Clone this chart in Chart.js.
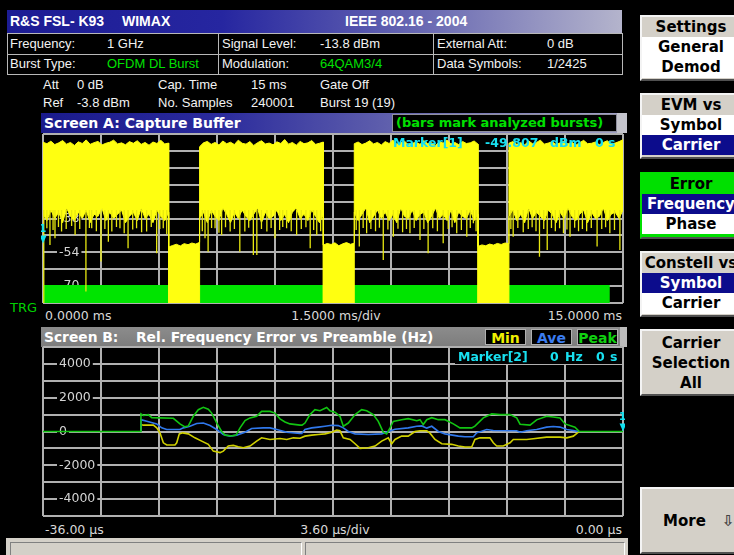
<!DOCTYPE html>
<html><head><meta charset="utf-8">
<script src="https://cdn.jsdelivr.net/npm/chart.js@4.4.0/dist/chart.umd.min.js"></script>
<style>
html,body{margin:0;padding:0;}
body{width:734px;height:555px;background:#000;position:relative;overflow:hidden;font-family:"Liberation Sans",Arial,sans-serif;}
.a{position:absolute;white-space:nowrap;}
.t{position:absolute;white-space:nowrap;height:16px;line-height:16px;}
.hd{font:bold 14px "Liberation Sans";color:#fff;}
.tb{font:13px "Liberation Sans";color:#f2f2f2;}
.gr{color:#00e000;}
.st{font:bold 14px "DejaVu Sans";color:#fff;}
.ax{font:12.5px "DejaVu Sans";color:#d8d8d8;}
.mk{font:bold 12.5px "DejaVu Sans";color:#18e0f0;}
.sk{position:absolute;left:640px;width:100px;box-sizing:border-box;background:#d4d0c8;border-top:2px solid #f4f4f4;border-left:2px solid #f4f4f4;border-bottom:2px solid #505050;font:bold 15px "DejaVu Sans";color:#000;text-align:center;}
.sk div{height:20px;line-height:20px;}
.w{background:#fff;}
.n{background:#0c0c8c;color:#fff;}
.lg{position:absolute;top:329px;height:16px;line-height:16px;box-sizing:border-box;width:41px;background:#000;border:1px solid #b0b0b0;font:bold 14px "DejaVu Sans";text-align:center;}
</style></head><body>

<!-- header -->
<div class="a" style="left:7px;top:10px;width:615px;height:23px;background:linear-gradient(to right,#1c1c94 0%,#2626a0 35%,#6e6eb4 70%,#b4b4cc 100%);"></div>
<div class="t hd" style="left:10px;top:13px;">R&amp;S FSL- K93</div>
<div class="t hd" style="left:122px;top:13px;">WIMAX</div>
<div class="t hd" style="left:345px;top:13px;">IEEE 802.16 - 2004</div>

<div class="a" style="left:7px;top:33px;width:616px;height:42px;box-sizing:border-box;border:1px solid #b8b8b8;"></div>
<div class="a" style="left:7px;top:54px;width:616px;height:1px;background:#b8b8b8;"></div>
<div class="a" style="left:218px;top:33px;width:1px;height:42px;background:#b8b8b8;"></div>
<div class="a" style="left:433px;top:33px;width:1px;height:42px;background:#b8b8b8;"></div>

<div class="t tb" style="left:10px;top:36px;">Frequency:</div>
<div class="t tb" style="left:107px;top:36px;">1 GHz</div>
<div class="t tb" style="left:222px;top:36px;">Signal Level:</div>
<div class="t tb" style="left:320px;top:36px;">-13.8 dBm</div>
<div class="t tb" style="left:437px;top:36px;">External Att:</div>
<div class="t tb" style="left:547px;top:36px;">0 dB</div>
<div class="t tb" style="left:10px;top:56px;">Burst Type:</div>
<div class="t tb gr" style="left:107px;top:56px;">OFDM DL Burst</div>
<div class="t tb" style="left:222px;top:56px;">Modulation:</div>
<div class="t tb gr" style="left:320px;top:56px;">64QAM3/4</div>
<div class="t tb" style="left:437px;top:56px;">Data Symbols:</div>
<div class="t tb" style="left:547px;top:56px;">1/2425</div>

<div class="t tb" style="left:43px;top:77px;">Att</div>
<div class="t tb" style="left:77px;top:77px;">0 dB</div>
<div class="t tb" style="left:158px;top:77px;">Cap. Time</div>
<div class="t tb" style="left:251px;top:77px;">15 ms</div>
<div class="t tb" style="left:320px;top:77px;">Gate Off</div>
<div class="t tb" style="left:43px;top:95px;">Ref</div>
<div class="t tb" style="left:77px;top:95px;">-3.8 dBm</div>
<div class="t tb" style="left:158px;top:95px;">No. Samples</div>
<div class="t tb" style="left:251px;top:95px;">240001</div>
<div class="t tb" style="left:320px;top:95px;">Burst 19 (19)</div>

<!-- Screen A title -->
<div class="a" style="left:41px;top:113px;width:586px;height:20px;background:linear-gradient(to right,#1a1a8c 0%,#2a2a9c 30%,#6a6ab0 65%,#a4a4c8 100%);"></div>
<div class="a" style="left:617px;top:113px;width:10px;height:20px;background:#c4c4cc;"></div>
<div class="t st" style="left:44px;top:115px;">Screen A: Capture Buffer</div>
<div class="a" style="left:392px;top:114px;width:225px;height:18px;box-sizing:border-box;background:#000;border:1px solid #9090a0;font:bold 13px 'DejaVu Sans';color:#00e000;line-height:16px;padding-left:3px;">(bars mark analyzed bursts)</div>

<div class="a" style="left:41px;top:132px;width:584px;height:173px;"><canvas id="cA" width="584" height="173"></canvas></div>
<div class="t mk" style="left:393px;top:135px;">Marker[1]</div>
<div class="t mk" style="left:485px;top:135px;">-49.807</div>
<div class="t mk" style="left:550px;top:135px;">dBm</div>
<div class="t mk" style="left:595px;top:135px;">0</div>
<div class="t mk" style="left:608px;top:135px;">s</div>

<div class="t" style="left:10px;top:300px;font:13px 'DejaVu Sans';color:#00d000;">TRG</div>
<div class="t ax" style="left:45px;top:308px;">0.0000 ms</div>
<div class="t ax" style="left:236px;top:308px;width:200px;text-align:center;">1.5000 ms/div</div>
<div class="t ax" style="left:500px;top:308px;width:122px;text-align:right;">15.0000 ms</div>

<!-- Screen B title -->
<div class="a" style="left:41px;top:327px;width:586px;height:20px;background:linear-gradient(to bottom,#8c8c8c,#7c7c7c);"></div>
<div class="a" style="left:620px;top:327px;width:7px;height:20px;background:#bcbcbc;"></div>
<div class="t st" style="left:44px;top:329px;font-size:13.8px;">Screen B:</div>
<div class="t st" style="left:136px;top:329px;font-size:13.8px;">Rel. Frequency Error vs Preamble (Hz)</div>
<div class="lg" style="left:485px;color:#f0f000;">Min</div>
<div class="lg" style="left:531px;color:#3a7cf0;">Ave</div>
<div class="lg" style="left:577px;color:#10d010;">Peak</div>

<div class="a" style="left:41px;top:345px;width:584px;height:173px;"><canvas id="cB" width="584" height="173"></canvas></div>
<div class="a" style="left:455px;top:348px;width:167px;height:16px;background:#000;"></div>
<div class="t mk" style="left:458px;top:349px;">Marker[2]</div>
<div class="t mk" style="left:550px;top:349px;">0</div>
<div class="t mk" style="left:565px;top:349px;">Hz</div>
<div class="t mk" style="left:596px;top:349px;">0</div>
<div class="t mk" style="left:610px;top:349px;">s</div>

<div class="t ax" style="left:45px;top:522px;">-36.00 µs</div>
<div class="t ax" style="left:235px;top:522px;width:200px;text-align:center;">3.60 µs/div</div>
<div class="t ax" style="left:500px;top:522px;width:122px;text-align:right;">0.00 µs</div>

<!-- status bar -->
<div class="a" style="left:6px;top:538px;width:622px;height:17px;background:#d4d0c8;"></div>
<div class="a" style="left:10px;top:542px;width:292px;height:13px;box-sizing:border-box;border-top:1px solid #808080;border-left:1px solid #808080;border-right:1px solid #fff;"></div>
<div class="a" style="left:305px;top:542px;width:320px;height:13px;box-sizing:border-box;border-top:1px solid #808080;border-left:1px solid #808080;border-right:1px solid #fff;"></div>

<!-- softkeys -->
<div class="sk" style="top:15px;height:66px;"><div>Settings</div><div class="w">General</div><div class="w" style="height:21px;">Demod</div></div>
<div class="sk" style="top:93px;height:66px;"><div>EVM vs</div><div class="w">Symbol</div><div class="n">Carrier</div></div>
<div class="sk" style="top:172px;height:67px;background:#00e000;border-color:#00e000;border-bottom:2px solid #505050;"><div style="color:#000;">Error</div><div class="n">Frequency</div><div class="w">Phase</div></div>
<div class="sk" style="top:251px;height:66px;"><div>Constell vs</div><div class="n">Symbol</div><div class="w" style="height:21px;">Carrier</div></div>
<div class="sk" style="top:329px;height:67px;padding-top:2px;"><div>Carrier</div><div>Selection</div><div>All</div></div>
<div class="sk" style="top:487px;height:67px;"></div>
<div class="t" style="left:663px;top:512px;font:bold 15px 'DejaVu Sans';color:#000;">More</div>
<div class="t" style="left:722px;top:512px;font:bold 15px 'DejaVu Sans';color:#444;">⇩</div>

<script>
// ---------- Screen A: capture buffer (ms, dBm) ----------
const xTicksA = [0,1.5,3,4.5,6,7.5,9,10.5,12,13.5,15];
const yTicksA = [-78,-70,-62,-54,-46,-38,-30,-22,-14,-6,2];
const yLabelsA = [-70,-54,-38,-22,-6];
const burstEdgesMs = [[0,3.25],[4.05,7.25],[8.05,11.25],[12.05,15]];
const burstTop1 = [-1.9,-2.6,-1.4,-3.0,-2.2,-1.1,-2.8,-2.0,-3.4,-1.7,-2.5,-0.8,-2.9,-2.1,-1.5,-3.2,-2.4,-1.9,-0.9,-2.7,-2.2,-3.1,-1.6,-2.4,-1.2,-2.9,-2.0,-3.3,-1.8,-2.5,-1.0,-2.7,-2.3];
const burstTop2 = [-4.0,-2.2,-1.5,-2.9,-2.0,-3.2,-1.3,-2.6,-1.9,-3.0,-0.9,-2.4,-2.8,-1.6,-3.4,-2.1,-1.2,-2.7,-2.3,-3.1,-1.7,-2.5,-0.6,-2.8,-2.0,-3.3,-1.5,-2.6,-2.2,-1.1,-2.9,-2.4,-1.8];
const burstTop3 = [-2.6,-1.8,-3.0,-2.3,-1.2,-2.7,-2.0,-3.2,-1.6,-2.5,-0.9,-2.8,-2.2,-1.4,-3.1,-2.4,-1.9,-2.9,-1.1,-2.6,-2.1,-3.4,-1.7,-2.3,-0.8,-2.7,-2.0,-3.0,-1.5,-2.5,-2.2,-1.3,-2.8];
const burstTop4 = [-2.4,-1.6,-2.9,-2.1,-3.2,-1.3,-2.6,-2.0,-0.9,-2.8,-2.3,-1.7,-3.0,-2.2,-1.4,-2.7,-1.9,-3.3,-2.1,-1.0,-2.6,-2.4,-1.8,-3.1,-2.0,-1.2,-2.7,-2.3,-1.6,-0.7];
const burstBody1 = [-36,-39,-34,-38,-35,-40,-33,-37,-39,-35,-38,-34,-40,-36,-37,-33,-39,-35,-38,-36,-34,-40,-37,-35,-39,-33,-38,-36,-40,-34,-37,-39,-35];
const burstBody2 = [-38,-35,-40,-34,-37,-39,-33,-36,-40,-35,-38,-34,-37,-39,-36,-33,-40,-35,-38,-37,-34,-39,-36,-40,-35,-33,-38,-36,-39,-34,-37,-40,-36];
const burstBody3 = [-35,-39,-36,-33,-40,-37,-34,-38,-35,-39,-36,-40,-33,-37,-38,-34,-39,-36,-35,-40,-37,-33,-38,-36,-39,-34,-40,-35,-37,-38,-34,-39,-36];
const burstBody4 = [-37,-34,-39,-36,-40,-33,-38,-35,-37,-39,-34,-36,-40,-35,-38,-33,-37,-39,-36,-34,-40,-35,-38,-37,-33,-39,-36,-35,-38,-34];
const gapTop1 = [-51.5,-50.8,-50.2,-51.0,-49.9,-50.4,-49.6,-50.1,-49.3];
const gapTop2 = [-50.6,-49.8,-50.3,-49.5,-50.9,-50.0,-49.4,-50.2,-49.7];
const gapTop3 = [-51.2,-50.5,-50.9,-50.1,-50.6,-49.8,-50.3,-49.6,-49.9];
const gapFloorDbm = -80;
const spikeFromDbm = -34;
const spikeMs = [0.02,0.10,0.18,0.26,0.31,0.40,0.48,0.60,0.74,0.83,0.95,1.11,1.20,1.26,1.38,1.50,1.60,1.69,1.78,1.90,1.99,2.10,2.20,2.32,2.42,2.55,2.68,2.80,2.94,3.02,3.11,3.20,
 4.12,4.19,4.27,4.36,4.45,4.55,4.62,4.72,4.84,4.95,5.09,5.22,5.32,5.44,5.53,5.65,5.79,5.90,6.00,6.12,6.20,6.30,6.42,6.56,6.68,6.80,6.91,7.00,7.08,7.18,
 8.10,8.18,8.28,8.37,8.48,8.60,8.70,8.80,8.92,9.06,9.18,9.30,9.40,9.49,9.60,9.75,9.85,9.96,10.08,10.20,10.35,10.48,10.58,10.70,10.82,10.96,11.05,11.13,11.20,
 12.10,12.16,12.28,12.42,12.55,12.65,12.75,12.84,12.95,13.04,13.15,13.25,13.36,13.46,13.55,13.63,13.75,13.85,13.95,14.06,14.18,14.33,14.45,14.55,14.66,14.78,14.92];
const spikeLow = [-80,-42.6,-50.5,-43.5,-47.4,-42.0,-44.2,-43.0,-41.5,-45.8,-43.0,-72.6,-42.5,-42.6,-44.0,-58.4,-43.0,-49.0,-44.2,-42.0,-42.6,-45.0,-52.1,-43.2,-42.6,-44.5,-44.2,-42.0,-54.5,-43.0,-42.6,-45.5,
 -44.0,-47.4,-53.7,-42.5,-42.6,-44.8,-45.8,-42.2,-44.2,-43.0,-53.7,-44.2,-42.4,-55.3,-55.3,-43.0,-44.2,-42.5,-47.4,-43.5,-42.0,-42.6,-44.0,-45.8,-43.0,-42.2,-52.1,-43.5,-45.8,-44.0,
 -43.5,-51.3,-42.5,-45.0,-43.0,-44.0,-42.4,-57.6,-43.2,-46.6,-42.8,-44.5,-43.0,-45.0,-42.5,-48.2,-43.0,-54.5,-42.6,-44.0,-49.7,-43.0,-42.2,-45.0,-43.5,-46.6,-42.5,-40.3,-44.0,
 -43.0,-46.6,-42.5,-44.5,-43.0,-42.2,-44.0,-56.1,-43.0,-52.9,-42.5,-44.0,-42.6,-45.0,-43.2,-46.6,-42.4,-44.0,-43.0,-44.0,-42.5,-51.3,-43.0,-42.2,-45.0,-43.5,-52.9];
const analyzedMs = [0,14.66];
const analyzedLevel = -69.5;
const marker1 = {x:0, y:-49.807, label:'1'};

// ---------- Screen B: relative frequency error (us, Hz) ----------
const xTicksB = [-36,-32.4,-28.8,-25.2,-21.6,-18,-14.4,-10.8,-7.2,-3.6,0];
const yTicksB = [-5000,-4000,-3000,-2000,-1000,0,1000,2000,3000,4000,5000];
const yLabelsB = [-4000,-2000,0,2000,4000];
const peakUs = [-36,-29.92,-29.92,-29.77,-29.46,-29.25,-28.74,-27.91,-27.50,-27.19,-26.98,-26.67,-26.36,-26.05,-25.74,-25.53,-25.22,-24.91,-24.70,-24.29,-24.02,-23.77,-23.46,-23.15,-22.74,-22.43,-21.91,-21.60,-21.29,-20.98,-20.67,-20.05,-19.92,-19.74,-19.43,-19.12,-18.81,-18.39,-18.19,-17.88,-17.57,-17.36,-17.05,-16.63,-16.22,-15.91,-15.50,-15.19,-14.88,-14.67,-14.46,-14.26,-13.74,-13.33,-12.80,-12.60,-12.40,-12.18,-11.87,-11.46,-11.05,-10.53,-10.12,-9.39,-9.19,-8.67,-8.15,-7.63,-7.01,-6.60,-6.39,-5.77,-5.36,-4.74,-4.33,-3.91,-3.60,-2.98,-2.71,0];
const peakHz = [0,0,1040,950,1000,820,805,780,450,275,330,900,1290,1430,1320,1090,510,0,-215,-270,-215,215,650,805,900,1190,1190,1090,750,560,450,375,375,500,1000,1290,1230,1420,1230,1140,900,315,500,1000,1290,1230,1000,600,-40,-150,215,600,700,760,640,700,410,700,820,700,700,450,215,215,315,805,1040,1000,1000,805,430,375,690,900,860,805,450,250,0,0];
const aveUs = [-29.92,-29.92,-29.56,-28.94,-28.63,-28.32,-27.50,-27.29,-26.88,-26.46,-26.05,-25.63,-25.22,-24.81,-24.39,-23.98,-23.46,-23.05,-22.33,-21.91,-21.49,-20.87,-20.05,-19.94,-19.74,-19.32,-18.91,-18.50,-18.08,-17.67,-17.36,-17.05,-16.63,-15.81,-14.98,-14.57,-14.15,-13.33,-12.80,-12.49,-12.18,-11.87,-11.46,-11.05,-10.22,-9.81,-9.29,-9.08,-8.46,-8.05,-6.60,-6.39,-5.98,-5.36,-4.74,-4.33,-3.91,-3.49,-3.08,-2.77];
const aveHz = [0,700,605,450,215,120,120,215,310,470,500,350,120,-175,-275,-215,-40,175,215,215,120,-40,-120,-120,120,215,260,310,370,350,215,0,-140,-175,-140,0,130,215,310,330,200,310,0,-140,-275,-315,-315,-80,120,60,40,-40,40,120,260,300,260,120,60,0];
const minUs = [-29.92,-29.92,-29.77,-29.15,-28.94,-28.74,-28.53,-28.32,-27.81,-27.70,-27.54,-27.33,-26.98,-26.57,-26.15,-25.74,-25.43,-25.01,-24.81,-24.50,-24.19,-23.88,-23.57,-23.15,-22.74,-22.43,-21.91,-21.29,-20.87,-20.46,-20.05,-19.74,-19.32,-18.91,-18.50,-18.08,-17.77,-17.57,-17.36,-16.94,-16.63,-16.32,-15.81,-15.39,-14.98,-14.57,-14.36,-14.15,-13.74,-13.33,-12.91,-12.60,-12.18,-11.98,-11.67,-11.25,-10.63,-10.22,-9.81,-9.39,-9.19,-8.88,-8.26,-8.05,-7.84,-7.43,-7.01,-6.81,-5.98,-5.57,-4.74,-3.91,-3.49,-3.08,-2.77,-2.71];
const minHz = [0,410,375,375,215,-80,-670,-800,-800,-670,-140,-80,-140,-375,-570,-760,-1160,-1250,-1160,-860,-820,-900,-960,-860,-570,-375,-470,-415,-470,-375,-400,-275,-215,-175,-140,-40,80,40,-375,-470,-725,-1000,-960,-860,-570,-375,-725,-470,-275,-275,0,40,40,-100,-470,-725,-760,-860,-920,-920,-470,-375,-375,-670,-860,-860,-670,-470,-470,-430,-335,-335,-375,-275,-40,0];
const marker2 = {x:0, y:0, label:'1'};

// ---------- build point lists ----------
const burstTops = [burstTop1,burstTop2,burstTop3,burstTop4];
const burstBodies = [burstBody1,burstBody2,burstBody3,burstBody4];
const gapTops = [gapTop1,gapTop2,gapTop3];
const topPts = [], bodyPts = [];
burstEdgesMs.forEach(([s,e],b)=>{
  const tv = burstTops[b], bv = burstBodies[b];
  tv.forEach((v,j)=>{ const x = s + j*(e-s)/(tv.length-1); topPts.push({x, y:v}); bodyPts.push({x, y:bv[j]}); });
  if (b < gapTops.length) {
    const g = gapTops[b], gs = e, ge = burstEdgesMs[b+1][0];
    g.forEach((v,j)=>{ const x = gs + j*(ge-gs)/(g.length-1); topPts.push({x, y:v}); bodyPts.push({x, y:gapFloorDbm}); });
  }
});
const spikePts = [];
spikeMs.forEach((x,i)=>{ spikePts.push({x, y:spikeFromDbm}); spikePts.push({x, y:spikeLow[i]}); spikePts.push({x, y:null}); });
const greenPts = analyzedMs.map(x=>({x, y:analyzedLevel}));
const zip = (xs,ys)=>xs.map((x,i)=>({x, y:ys[i]}));

Chart.defaults.font.family = '"DejaVu Sans"';

const markerPlugin = {
  id:'mk',
  afterDatasetsDraw(chart, args, o){
    if(!o || !o.points) return;
    const ctx = chart.ctx;
    o.points.forEach(p=>{
      const px = chart.scales.x.getPixelForValue(p.x), py = chart.scales.y.getPixelForValue(p.y);
      ctx.save();
      ctx.fillStyle = '#10e0f0';
      ctx.beginPath(); ctx.moveTo(px-3.5, py-8); ctx.lineTo(px+3.5, py-8); ctx.lineTo(px, py); ctx.closePath(); ctx.fill();
      ctx.font = 'bold 11px "DejaVu Sans"'; ctx.textAlign = 'center'; ctx.textBaseline = 'bottom';
      ctx.fillText(p.label, px-0.5, py-9);
      ctx.restore();
    });
  }
};

function axis(ticks, labels, min, max, isY){
  const a = {
    type:'linear', min, max,
    afterBuildTicks: s => { s.ticks = ticks.map(v=>({value:v})); },
    grid:{color:'#b0b0b0', lineWidth:2, drawTicks:false},
    border:{display:false},
    ticks:{display:false, autoSkip:false},
    afterFit: s => { s.height = 0; s.paddingLeft = 0; s.paddingRight = 0; }
  };
  if (isY) {
    a.ticks = {
      display:true, autoSkip:false, mirror:true, padding:16, color:'#d4d4d4',
      font:{size:12.5, family:'"DejaVu Sans"'},
      callback: v => labels.includes(v) ? String(v) : '',
      showLabelBackdrop: c => !!(c.tick && labels.includes(c.tick.value)),
      backdropColor:'#000', backdropPadding:{left:2,right:2,top:0,bottom:0}
    };
    a.afterFit = s => { s.width = 0; s.paddingTop = 0; s.paddingBottom = 0; };
  }
  return a;
}

const common = {
  responsive:false, animation:false, devicePixelRatio:1,
  layout:{padding:2},
  elements:{point:{radius:0}, line:{tension:0}}
};

new Chart(document.getElementById('cA'), {
  type:'line',
  data:{datasets:[
    {label:'spikes', data:spikePts, borderColor:'#e8e810', borderWidth:1.3, fill:false, spanGaps:false, order:1},
    {label:'top', data:topPts, borderColor:'#ffff10', borderWidth:1, backgroundColor:'#ffff10', fill:'+1', order:2},
    {label:'body', data:bodyPts, borderColor:'#ffff10', borderWidth:1, fill:false, order:3},
    {label:'analyzed', data:greenPts, borderWidth:0, borderColor:'rgba(0,0,0,0)', backgroundColor:'#00e400', fill:'start', order:4}
  ]},
  options:Object.assign({}, common, {
    plugins:{legend:{display:false}, tooltip:{enabled:false}, mk:{points:[marker1]}},
    scales:{ x:axis(xTicksA, [], 0, 15, false), y:axis(yTicksA, yLabelsA, -78, 2, true) }
  }),
  plugins:[markerPlugin]
});

new Chart(document.getElementById('cB'), {
  type:'line',
  data:{datasets:[
    {label:'Peak', data:zip(peakUs, peakHz), borderColor:'#12c412', borderWidth:1.6, fill:false, order:1},
    {label:'Ave', data:zip(aveUs, aveHz), borderColor:'#3078ec', borderWidth:1.6, fill:false, order:2},
    {label:'Min', data:zip(minUs, minHz), borderColor:'#d0d000', borderWidth:1.6, fill:false, order:3}
  ]},
  options:Object.assign({}, common, {
    plugins:{legend:{display:false}, tooltip:{enabled:false}, mk:{points:[marker2]}},
    scales:{ x:axis(xTicksB, [], -36, 0, false), y:axis(yTicksB, yLabelsB, -5000, 5000, true) }
  }),
  plugins:[markerPlugin]
});
</script>
</body></html>
